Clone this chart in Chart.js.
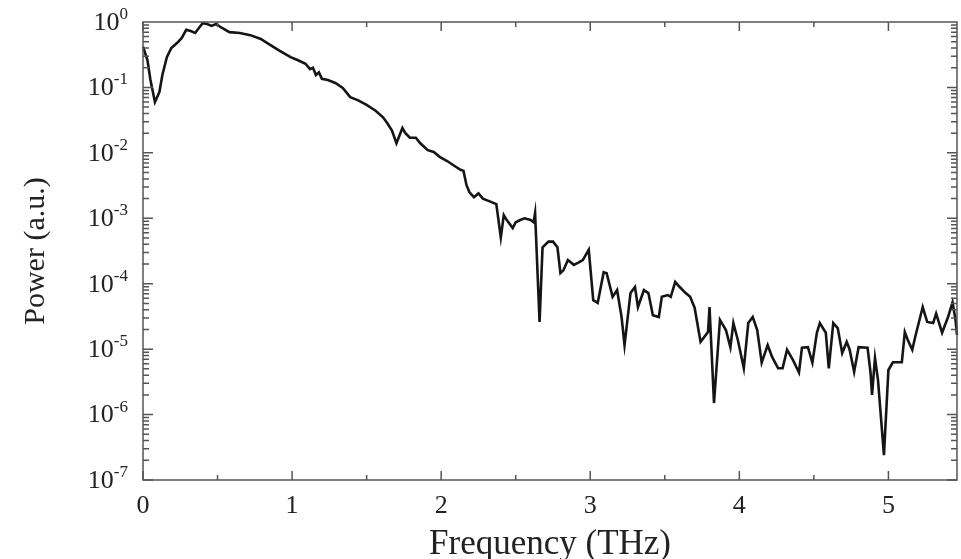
<!DOCTYPE html>
<html>
<head>
<meta charset="utf-8">
<script src="https://cdn.jsdelivr.net/npm/chart.js@4.4.1/dist/chart.umd.min.js"></script>
<style>
  body { margin: 0; background: #fff; }
  #wrap { width: 961px; height: 559px; position: relative; }
</style>
</head>
<body>
<div id="wrap"><canvas id="myChart"></canvas></div>
<script>
// frequency (THz) and power (a.u.)
var freq = [0.00, 0.03, 0.05, 0.08, 0.11, 0.13, 0.16, 0.19, 0.23, 0.26, 0.29, 0.32, 0.35, 0.38, 0.40, 0.43, 0.46, 0.49,
    0.53, 0.58, 0.65, 0.72, 0.79, 0.85, 0.92, 0.99, 1.04, 1.09, 1.12, 1.14, 1.16, 1.18, 1.20, 1.24, 1.29, 1.34, 1.39,
    1.44, 1.50, 1.56, 1.61, 1.64, 1.67, 1.70, 1.74, 1.76, 1.79, 1.83, 1.86, 1.91, 1.95, 1.99, 2.04, 2.09, 2.13, 2.15,
    2.17, 2.19, 2.22, 2.25, 2.28, 2.33, 2.37, 2.40, 2.42, 2.44, 2.48, 2.50, 2.53, 2.56, 2.60, 2.62, 2.63, 2.66, 2.68,
    2.72, 2.75, 2.78, 2.80, 2.82, 2.85, 2.89, 2.92, 2.95, 2.99, 3.02, 3.05, 3.09, 3.11, 3.15, 3.18, 3.21, 3.23, 3.27,
    3.30, 3.32, 3.36, 3.39, 3.42, 3.46, 3.48, 3.52, 3.54, 3.57, 3.60, 3.64, 3.67, 3.70, 3.74, 3.79, 3.80, 3.83, 3.87,
    3.91, 3.94, 3.96, 3.99, 4.03, 4.06, 4.09, 4.12, 4.15, 4.19, 4.22, 4.26, 4.29, 4.32, 4.36, 4.40, 4.42, 4.46, 4.49,
    4.52, 4.54, 4.58, 4.60, 4.63, 4.66, 4.69, 4.72, 4.74, 4.77, 4.80, 4.86, 4.88, 4.89, 4.91, 4.93, 4.97, 5.00, 5.03,
    5.09, 5.11, 5.13, 5.16, 5.18, 5.23, 5.26, 5.30, 5.32, 5.36, 5.40, 5.43, 5.45, 5.46];
var power = [0.42, 0.26, 0.13, 0.060, 0.085, 0.155, 0.29, 0.40, 0.48, 0.57, 0.76, 0.73, 0.68, 0.84, 0.96, 0.93, 0.87, 0.93,
    0.81, 0.70, 0.68, 0.63, 0.55, 0.45, 0.36, 0.29, 0.26, 0.23, 0.19, 0.20, 0.155, 0.17, 0.135, 0.13, 0.117, 0.098, 0.071,
    0.064, 0.054, 0.044, 0.035, 0.028, 0.022, 0.014, 0.024, 0.020, 0.017, 0.017, 0.014, 0.011, 0.0103, 0.0087, 0.0075, 0.0063, 0.0055, 0.0053,
    0.0032, 0.0025, 0.0021, 0.0024, 0.0020, 0.0018, 0.00165, 0.00051, 0.00112, 0.00094, 0.00071, 0.00087, 0.00094, 0.0010, 0.00094, 0.00087, 0.0012, 2.6e-5, 3.6e-4,
    4.4e-4, 4.4e-4, 3.6e-4, 1.45e-4, 1.6e-4, 2.3e-4, 1.94e-4, 2.1e-4, 2.3e-4, 3.3e-4, 5.6e-5, 5.1e-5, 1.5e-4, 1.45e-4, 6.3e-5, 8.0e-5, 3.1e-5, 1.15e-5, 7.2e-5,
    8.9e-5, 4.4e-5, 8.0e-5, 7.2e-5, 3.3e-5, 3.1e-5, 6.3e-5, 6.7e-5, 6.3e-5, 1.07e-4, 8.9e-5, 7.2e-5, 6.3e-5, 4.3e-5, 1.29e-5, 1.82e-5, 4.4e-5, 1.5e-6, 2.8e-5,
    1.96e-5, 1.07e-5, 2.5e-5, 1.38e-5, 5.1e-6, 2.5e-5, 3.1e-5, 1.96e-5, 6.2e-6, 1.15e-5, 7.6e-6, 5.1e-6, 5.1e-6, 9.8e-6, 6.8e-6, 4.4e-6, 1.05e-5, 1.07e-5, 6.2e-6,
    1.78e-5, 2.5e-5, 1.78e-5, 5.1e-6, 2.5e-5, 2.1e-5, 8.7e-6, 1.29e-5, 9.8e-6, 4.5e-6, 1.07e-5, 1.05e-5, 4.4e-6, 2.0e-6, 7.3e-6, 3.4e-6, 2.4e-7, 4.8e-6, 6.3e-6,
    6.3e-6, 1.82e-5, 1.38e-5, 9.8e-6, 1.55e-5, 4.4e-5, 2.6e-5, 2.5e-5, 3.5e-5, 1.78e-5, 3.1e-5, 5.2e-5, 2.8e-5, 1.65e-5];

var xTicks = [0, 1, 2, 3, 4, 5];
var xMinorTicks = [0.5, 1.5, 2.5, 3.5, 4.5];
var yExps = [0, -1, -2, -3, -4, -5, -6, -7];

var serif = "'Liberation Serif', 'DejaVu Serif', serif";

// box round the plot with inward ticks on all four sides, plus 10^n labels
var framePlugin = {
    id: 'frame',
    afterDatasetsDraw: function(chart) {
        var ctx = chart.ctx;
        var a = chart.chartArea;
        var xs = chart.scales.x, ys = chart.scales.y;
        ctx.save();
        ctx.strokeStyle = '#555';
        ctx.lineWidth = 1.5;
        ctx.strokeRect(a.left, a.top, a.right - a.left, a.bottom - a.top);
        ctx.beginPath();
        for (var e = -7; e < 0; e++) {
            for (var m = 1; m <= 9; m++) {
                var py = ys.getPixelForValue(m * Math.pow(10, e));
                var len = m == 1 ? 10 : 6;
                ctx.moveTo(a.left, py); ctx.lineTo(a.left + len, py);
                ctx.moveTo(a.right, py); ctx.lineTo(a.right - len, py);
            }
        }
        xTicks.forEach(function(v) {
            var px = xs.getPixelForValue(v);
            ctx.moveTo(px, a.bottom); ctx.lineTo(px, a.bottom - 9);
            ctx.moveTo(px, a.top); ctx.lineTo(px, a.top + 9);
        });
        xMinorTicks.forEach(function(v) {
            var px = xs.getPixelForValue(v);
            ctx.moveTo(px, a.bottom); ctx.lineTo(px, a.bottom - 5);
            ctx.moveTo(px, a.top); ctx.lineTo(px, a.top + 5);
        });
        ctx.stroke();

        // y labels: "10" with a raised exponent
        ctx.fillStyle = '#222';
        ctx.textAlign = 'right';
        ys.ticks.forEach(function(t) {
            var py = ys.getPixelForValue(t.value);
            var ex = String(Math.round(Math.log10(t.value)));
            var xr = a.left - 15;
            ctx.font = '17px ' + serif;
            ctx.textBaseline = 'alphabetic';
            ctx.fillText(ex, xr, py - 3);
            var w = ctx.measureText(ex).width;
            ctx.font = '26px ' + serif;
            ctx.textBaseline = 'middle';
            ctx.fillText('10', xr - w, py + 1);
        });
        ctx.restore();
    }
};

var points = [];
for (var i = 0; i < freq.length; i++) {
    points.push({x: freq[i], y: power[i]});
}

var ctx = document.getElementById('myChart');
var myChart = new Chart(ctx, {
    type: 'line',
    data: {
        datasets: [{
            data: points,
            borderColor: '#151515',
            borderWidth: 2.6,
            pointRadius: 0,
            tension: 0,
            clip: false
        }]
    },
    options: {
        responsive: true,
        maintainAspectRatio: false,
        animation: false,
        layout: { padding: { top: 22, right: 4, left: 0, bottom: 0 } },
        plugins: { legend: { display: false }, tooltip: { enabled: false } },
        scales: {
            x: {
                type: 'linear',
                min: 0,
                max: 5.46,
                grid: { display: false },
                border: { display: false },
                afterBuildTicks: function(scale) {
                    scale.ticks = xTicks.map(function(v) { return {value: v}; });
                },
                afterFit: function(scale) { scale.height = 79; },
                ticks: {
                    color: '#222',
                    padding: 3,
                    maxRotation: 0,
                    font: { family: serif, size: 26 }
                },
                title: {
                    display: true,
                    text: 'Frequency (THz)',
                    color: '#222',
                    padding: { top: 0, bottom: 0 },
                    font: { family: serif, size: 35, lineHeight: 0.8 }
                }
            },
            y: {
                type: 'logarithmic',
                min: 1e-7,
                max: 1,
                grid: { display: false },
                border: { display: false },
                afterBuildTicks: function(scale) {
                    scale.ticks = yExps.map(function(e) { return {value: Math.pow(10, e)}; });
                },
                afterFit: function(scale) { scale.width = 143; },
                ticks: { display: false },
                title: {
                    display: true,
                    text: 'Power (a.u.)',
                    color: '#222',
                    padding: { top: 18, bottom: 0 },
                    font: { family: serif, size: 30 }
                }
            }
        }
    },
    plugins: [framePlugin]
});
</script>
</body>
</html>
